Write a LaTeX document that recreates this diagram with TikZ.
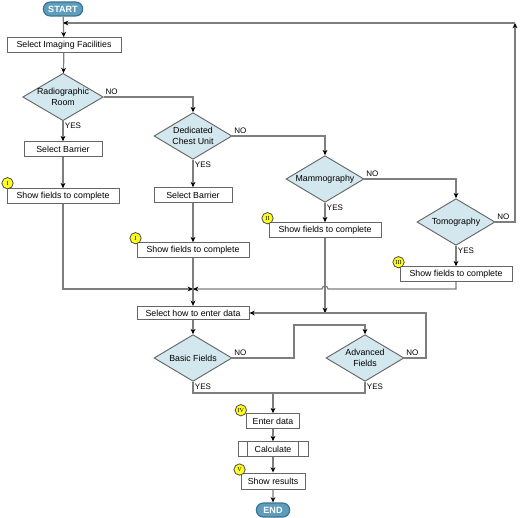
\documentclass[tikz,border=0pt]{standalone}
\usepackage{fontspec}
\setmainfont{Liberation Sans}
\newfontfamily\badgefont{Liberation Serif}
\usetikzlibrary{positioning}
\usetikzlibrary{calc}
\usetikzlibrary{shapes.geometric,shapes.misc,arrows.meta}
\definecolor{linegray}{HTML}{7E7E7E}
\definecolor{boxgray}{HTML}{666666}
\definecolor{decfill}{HTML}{D3E7EE}
\definecolor{termfill}{HTML}{5E9EBB}
\definecolor{termline}{HTML}{3A7395}
\definecolor{badgefill}{HTML}{FFFF1A}
\tikzset{%
  arr/.style = {-{Stealth[black,length=4pt,width=3.6pt]},draw=linegray,line width=0.9pt},
  wire/.style = {draw=linegray,line width=0.9pt},
  box/.style = {rectangle,draw=boxgray,fill=white,line width=0.7pt,
        minimum width=84pt,minimum height=11pt,inner sep=1pt,
        font=\fontsize{6.6}{7.5}\selectfont},
  dec/.style = {diamond,draw=boxgray,fill=decfill,line width=0.7pt,
        aspect=1.7,inner sep=0pt,minimum width=58.5pt,minimum height=35pt,
        align=center,font=\fontsize{6.6}{7.8}\selectfont},
  term/.style = {rounded rectangle,draw=termline,fill=termfill,line width=0.9pt,
        minimum width=31.5pt,minimum height=10.5pt,inner sep=1pt,text=white,
        font=\fontsize{6.8}{7.5}\selectfont\bfseries},
  badge/.style = {circle,draw=black!70,fill=badgefill,line width=0.6pt,
        minimum size=8.5pt,inner sep=0pt,font=\fontsize{4.6}{4.6}\selectfont\badgefont},
  lbl/.style = {inner sep=1pt,font=\fontsize{6}{6}\selectfont}
}
\begin{document}
\begin{tikzpicture}[x=0.75pt,y=-0.75pt]
\useasboundingbox (0,0) rectangle (520,517);
% terminals and steps
\node[term] (start) at (63,9) {START};
\node[box,minimum width=85.5pt] (imaging) at (64,45) {Select Imaging Facilities};
\node[dec] (radio) at (63,97) {Radiographic\\Room};
\node[box,minimum width=58.5pt] (barrierA) at (63,149) {Select Barrier};
\node[box] (showA) at (63,196) {Show fields to complete};
\node[dec] (chest) at (193,136) {Dedicated\\Chest Unit};
\node[box,minimum width=58.5pt] (barrierB) at (193,195) {Select Barrier};
\node[box] (showB) at (193,250) {Show fields to complete};
\node[dec] (mammo) at (325,179) {Mammography};
\node[box] (showC) at (325,230) {Show fields to complete};
\node[dec] (tomo) at (456,222) {Tomography};
\node[box] (showD) at (456,274) {Show fields to complete};
\node[box,minimum height=10pt] (howto) at (193,313) {Select how to enter data};
\node[dec] (basic) at (193,358) {Basic Fields};
\node[dec] (adv) at (365,358) {Advanced\\Fields};
\node[box,minimum width=40pt] (enter) at (273,421) {Enter data};
\node[box,minimum width=52.5pt] (calc) at (273,449) {Calculate};
\node[box,minimum width=48pt,minimum height=12pt] (results) at (273,481) {Show results};
\node[term,minimum width=27pt] (finish) at (273,510) {END};
% badges
\node[badge] (bA) at ($(showA.north west)+(1,-5)$) {I};
\node[badge] (bB) at ($(showB.north west)+(-1,-4)$) {I};
\node[badge] (bC) at ($(showC.north west)+(-1,-4)$) {II};
\node[badge] (bD) at ($(showD.north west)+(-1,-4)$) {III};
\node[badge] (bE) at ($(enter.north west)+(-5,-3)$) {IV};
\node[badge] (bF) at ($(results.north west)+(-1,-3)$) {V};
% calculate side bars
\draw[draw=boxgray,line width=0.7pt] ($(calc.north west)+(10,0)$) -- ($(calc.south west)+(10,0)$);
\draw[draw=boxgray,line width=0.7pt] ($(calc.north east)+(-10,0)$) -- ($(calc.south east)+(-10,0)$);
% helper points
\coordinate (loopL) at (63,23);
\coordinate (loopR) at (515,23);
\coordinate (merge) at (193,289);
\coordinate (hopR) at (328,289);
\coordinate (hopL) at (322,289);
\coordinate (advIn) at (325,313);
\coordinate (bend) at (294,325);
\coordinate (advR) at (426,313);
\coordinate (join) at (273,393);
% connectors
\draw[arr] (start) -- (imaging);
\draw[arr] (imaging) -- (radio);
\draw[arr] (radio.east) node[lbl,above right] {NO} -| (chest.north);
\draw[arr] (radio.south) node[lbl,below right] {YES} -- (barrierA);
\draw[arr] (barrierA) -- (showA);
\draw[arr] (showA.south) |- (merge);
\draw[arr] (chest.east) node[lbl,above right] {NO} -| (mammo.north);
\draw[arr] (chest.south) node[lbl,below right] {YES} -- (barrierB);
\draw[arr] (barrierB) -- (showB);
\draw[arr] (showB) -- (howto);
\draw[arr] (mammo.east) node[lbl,above right] {NO} -| (tomo.north);
\draw[arr] (mammo.south) node[lbl,below right] {YES} -- (showC);
\draw[arr] (showC.south) -- (advIn);
\draw[arr] (tomo.east) node[lbl,above right] {NO} -| (loopR);
\draw[arr] (loopR) -- (loopL);
\draw[arr] (tomo.south) node[lbl,below right] {YES} -- (showD);
\draw[arr] (showD.south) |- (hopR) arc[start angle=0,end angle=-180,radius=3] -- (merge);
\draw[arr] (howto) -- (basic);
\draw[arr] (basic.east) node[lbl,above right] {NO} -| (bend) -| (adv.north);
\draw[arr] (adv.east) node[lbl,above right] {NO} -| (advR) -- (howto.east);
\draw[wire] (basic.south) node[lbl,below right] {YES} |- (join);
\draw[wire] (adv.south) node[lbl,below right] {YES} |- (join);
\draw[arr] (join) -- (enter);
\draw[arr] (enter) -- (calc);
\draw[arr] (calc) -- (results);
\draw[arr] (results) -- (finish);
\end{tikzpicture}
\end{document}
